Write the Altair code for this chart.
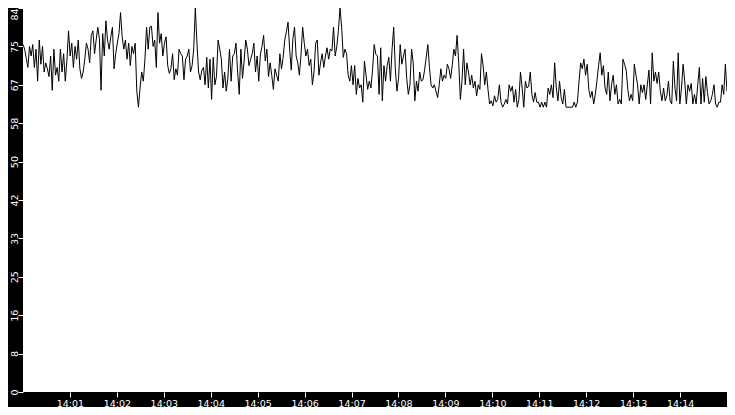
import altair as alt
import pandas as pd

# Signal values, in six consecutive segments (14:00 -> 14:15)
seg1 = [76, 75, 73, 71, 75.6, 73.5, 76, 71, 75, 68, 77, 71.7, 75.6, 70, 72, 70.7, 69, 73.5, 66, 75,
        69.3, 71, 68, 75, 70, 74, 68, 72.5, 79, 73.5, 76.3, 71, 75.6, 72.8, 77, 70.7, 68.6, 70, 72.8, 76.3,
        75, 72, 78, 79, 74, 77, 79.8, 77.3, 66, 78.4, 73.5, 81.2, 77, 75, 77.7, 79.8, 70.7, 74, 76.3, 78.4,
        83, 77.7, 75, 77, 72.8, 76.3, 71.4, 75.6, 74, 76.3, 65.8, 62.3, 66.5]
seg2 = [70, 68, 72.8, 79.8, 75, 79.8, 80, 75.6, 77, 71, 83, 76.3, 78.4, 73.5, 76.3, 77.7, 71.4, 69.7, 70.7, 74,
        68.3, 70.7, 69.3, 75, 74, 73.5, 68.3, 72.8, 73.5, 75, 70, 71.4, 75, 84, 76.3, 70, 68.3, 70.4, 71, 67.2,
        73.2, 66.5, 72.8, 64, 73.2, 67.2, 69, 77, 75, 72.8, 66.5, 70, 65.8, 68.6, 75, 68, 73.5, 74, 76.3, 70,
        65.1, 75, 68.6, 72.4, 77, 75, 71.4, 72.8, 74, 76.3, 70, 73.5, 68]
seg3 = [73.9, 75.6, 78, 72.4, 75, 69, 72, 69.3, 66.2, 70.7, 69.3, 68, 74, 70.7, 73.2, 77, 78.8, 80.9, 75, 70.4,
        77.3, 79.8, 73.5, 72, 69.3, 73.9, 79.8, 76.3, 73.5, 75, 71.4, 72.8, 67.2, 70, 76.3, 77, 69.3, 72, 74, 71,
        73.5, 75.3, 72.8, 75, 74.6, 79.8, 73.5, 75.6, 79.1, 84, 79.8, 73.2, 75, 74, 69.3, 68, 71.4, 67.2, 71.4, 65.1,
        68.6, 66.5, 67.2, 63.4, 72.4, 69.3, 66.2, 68, 66.5, 70.4, 76, 73.9]
seg4 = [73.5, 65.1, 75.3, 63.7, 71.4, 68, 71.4, 73.2, 68, 75, 79.8, 70.7, 65.8, 68.6, 76, 71.7, 73.5, 75, 68.6, 65.1,
        67.2, 75, 72, 63.7, 68, 65.8, 70, 68, 68.3, 70.4, 73.2, 76, 71, 67.2, 66.5, 67.2, 65.8, 64.4, 67.2, 70.7,
        68, 69.3, 68.6, 71.7, 70.7, 68.6, 71.4, 75, 73.5, 78, 72, 64, 68, 75, 67.2, 72, 70, 67.2, 69.3, 66.5,
        68, 64.8, 67.2, 66.2, 74, 71.4, 67.2, 70, 66.2, 63, 63.7, 62.6]
seg5 = [64.8, 63.4, 64, 67.2, 63.4, 62.3, 63, 64, 63, 67.2, 65.8, 66.9, 63.4, 66.2, 62.3, 64, 70, 66.5, 62.3, 68,
        66.5, 66.9, 70, 65.1, 63.4, 65.5, 63.4, 63.4, 62.3, 63.4, 62.3, 63.4, 62.3, 66.5, 65.1, 67.2, 64.4, 72, 66.5, 63.7,
        68, 64.4, 63, 66.2, 62.3, 62.3, 62.3, 62.3, 62.3, 63.4, 62.3, 63.4, 68, 72, 70.7, 72.8, 69.3, 71.7, 66.2, 64.4,
        65.8, 63, 65.1, 68, 71.4, 74.2, 69.3, 71.4, 66.5, 65.1, 70, 63.7]
seg6 = [67.2, 69.3, 65.1, 67.2, 63, 64, 63, 72.8, 71.7, 70.4, 66.2, 63.7, 65.1, 63.7, 71.7, 69.3, 67.2, 63, 67.2, 65.5,
        67.2, 64, 67.2, 70.4, 63, 74.2, 68, 70, 67.5, 70, 65.8, 63.7, 66.5, 63.7, 64.8, 68, 63.7, 63, 72.4, 66.5,
        63.7, 74.2, 63, 66.5, 71.7, 68, 63, 67.2, 65.8, 67.5, 63, 65.1, 63, 67.2, 71, 63, 68.6, 63.4, 69, 65.5,
        63, 63.7, 65.1, 67.2, 63, 62.3, 63.4, 63.4, 67.2, 65.1, 71.7, 65.8]

y_ticks = [0, 8.4, 16.8, 25.2, 33.6, 42, 50.4, 58.8, 67.2, 75.6, 84]
x_tick_minutes = list(range(1, 15))

values = seg1 + seg2 + seg3 + seg4 + seg5 + seg6
n = len(values)
start = pd.Timestamp("2024-01-01 14:00:00")
times = [start + pd.Timedelta(seconds=900 * i / (n - 1)) for i in range(n)]
df = pd.DataFrame({"time": times, "value": values})


def dt(m):
    return alt.DateTime(year=2024, month=1, date=1, hours=14, minutes=m)


FONT = "DejaVu Sans"

chart = alt.Chart(df).mark_line(color="black", strokeWidth=1).encode(
    x=alt.X(
        "time:T",
        scale=alt.Scale(domain=[dt(0), dt(15)]),
        axis=alt.Axis(
            values=[dt(m) for m in x_tick_minutes],
            format="%H:%M",
            title=None,
            grid=False,
            domain=False,
            tickColor="white",
            tickSize=5,
            labelColor="white",
            labelFont=FONT,
            labelFontSize=9.5,
            labelPadding=1,
            labelFlush=False,
            labelOverlap=False,
        ),
    ),
    y=alt.Y(
        "value:Q",
        scale=alt.Scale(domain=[0, 84], nice=False),
        axis=alt.Axis(
            values=y_ticks,
            labelExpr="floor(datum.value + 0.001)",
            title=None,
            grid=False,
            domain=False,
            tickColor="white",
            tickSize=5,
            labelColor="white",
            labelFont=FONT,
            labelFontSize=9.5,
            labelAngle=270,
            labelAlign={"condition": {"test": "datum.value >= 84", "value": "right"}, "value": "center"},
            labelBaseline="alphabetic",
            labelPadding=1,
            labelFlush=False,
            labelOverlap=False,
        ),
    ),
).properties(
    width=704,
    height=384,
    background="black",
    padding={"left": 15, "top": 0, "right": 0, "bottom": 15},
    autosize=alt.AutoSizeParams(type="none"),
).configure_view(fill="white", strokeWidth=0)

chart.save("out.html", embed_options={"renderer": "svg", "actions": False})
